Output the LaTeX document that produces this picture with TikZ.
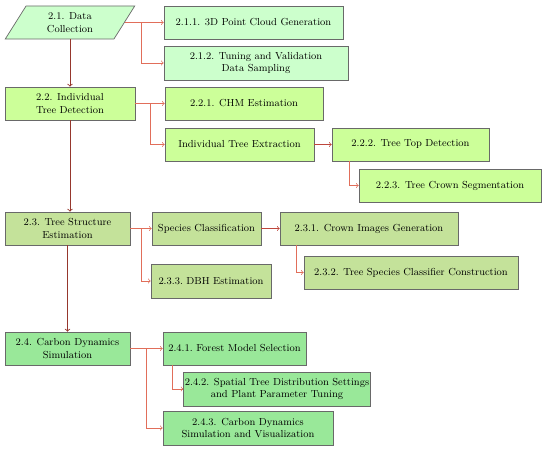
\documentclass[tikz,border=0pt]{standalone}
\usepackage{tikz}
\usetikzlibrary{shapes.geometric}
\definecolor{grpa}{RGB}{204,255,204}
\definecolor{grpb}{RGB}{204,255,153}
\definecolor{grpc}{RGB}{196,226,154}
\definecolor{grpd}{RGB}{153,232,153}
\definecolor{boxline}{RGB}{105,105,105}
\definecolor{arrdark}{RGB}{150,55,45}
\definecolor{arrmid}{RGB}{190,70,60}
\definecolor{arrlight}{RGB}{225,110,90}

\begin{document}
\begin{tikzpicture}[x=0.03cm,y=-0.03cm,
  box/.style={draw=boxline,line width=0.6pt,align=center,inner sep=1pt,font=\fontsize{8.7}{11}\selectfont},
  mainarr/.style={draw=arrdark,line width=0.7pt,->},
  midarr/.style={draw=arrmid,line width=0.6pt,->},
  subarr/.style={draw=arrlight,line width=0.6pt,->}]
\useasboundingbox (0,0) rectangle (550,449);
\node[box,fill=grpa,trapezium,trapezium stretches=true,trapezium left angle=63,trapezium right angle=117,
  minimum width=3.9cm,minimum height=0.99cm] (d1) at (70,22.5) {2.1. Data\\Collection};
\foreach \n/\xa/\ya/\xb/\yb/\c/\t in {
  d2/5/87/135/120/grpb/{2.2. Individual\\Tree Detection},
  d3/5/212/130/245/grpc/{2.3. Tree Structure\\Estimation},
  d4/5/332/130/365/grpd/{2.4. Carbon Dynamics\\Simulation},
  b11/164/6/343/39/grpa/{2.1.1. 3D Point Cloud Generation},
  b12/164/46/348/80/grpa/{2.1.2. Tuning and Validation\\Data Sampling},
  b21/165/87/323/120/grpb/{2.2.1. CHM Estimation},
  ite/165/128/314/161/grpb/{Individual Tree Extraction},
  b22/332/128/489/161/grpb/{2.2.2. Tree Top Detection},
  b23/359/169/541/202/grpb/{2.2.3. Tree Crown Segmentation},
  sc/152/212/261/245/grpc/{Species Classification},
  b31/280/212/458/245/grpc/{2.3.1. Crown Images Generation},
  b32/304/256/518/289/grpc/{2.3.2. Tree Species Classifier Construction},
  b33/151/264/271/298/grpc/{2.3.3.\ DBH Estimation},
  b41/163/332/306/365/grpd/{2.4.1.\ Forest Model Selection},
  b42/185/372/369/406/grpd/{2.4.2. Spatial Tree Distribution Settings\\and Plant Parameter Tuning},
  b43/163/411/333/445/grpd/{2.4.3. Carbon Dynamics\\Simulation and Visualization}}{
  \node[box,fill=\c,minimum width={(\xb-\xa)*0.03cm},minimum height={(\yb-\ya)*0.03cm}] (\n) at ({(\xa+\xb)/2},{(\ya+\yb)/2}) {\t};
}
% main line
\draw[mainarr] (d1.south) -- (d1.south |- d2.north);
\draw[mainarr] (d2.south) -- (d2.south |- d3.north);
\draw[mainarr] (d3.south) -- (d3.south |- d4.north);
% branches
\draw[subarr] (d1.east) -- (b11.west);
\draw[subarr] (d1.east) ++(17,0) |- (b12.west);
\draw[subarr] (d2.east) -- (b21.west);
\draw[subarr] (d2.east) ++(15,0) |- (ite.west);
\draw[midarr] (ite.east) -- (b22.west);
\draw[subarr] (b22.south west) ++(18,0) |- (b23.west);
\draw[subarr] (d3.east) -- (sc.west);
\draw[subarr] (d3.east) ++(11,0) |- (b33.west);
\draw[midarr] (sc.east) -- (b31.west);
\draw[subarr] (b31.south west) ++(17,0) |- (b32.west);
\draw[subarr] (d4.east) -- (b41.west);
\draw[subarr] (d4.east) ++(16,0) |- (b43.west);
\draw[subarr] (b41.south west) ++(10,0) |- (b42.west);
\end{tikzpicture}
\end{document}
